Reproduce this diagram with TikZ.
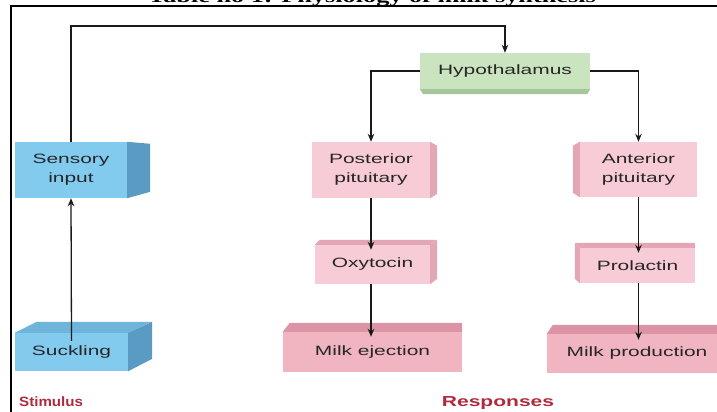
\documentclass[tikz,border=0pt]{standalone}
\usepackage{fontspec}
\usetikzlibrary{arrows.meta}
\newfontfamily\boxfont[FakeStretch=1.55]{Liberation Sans}
\newfontfamily\stimfont[FakeStretch=1.12]{Liberation Sans}
\newfontfamily\respfont[FakeStretch=1.45]{Liberation Sans}
\newfontfamily\titlefont[FakeStretch=1.5]{Liberation Serif}
\definecolor{bluefront}{HTML}{82CBEF}
\definecolor{bluedark}{HTML}{5A9BC3}
\definecolor{bluetop}{HTML}{6FB4DA}
\definecolor{pinkfront}{HTML}{F7CCD6}
\definecolor{pinkdark}{HTML}{E3A6B4}
\definecolor{milkfront}{HTML}{F1B5C2}
\definecolor{milkdark}{HTML}{DC93A6}
\definecolor{greenfront}{HTML}{C9E4BF}
\definecolor{greendark}{HTML}{A6C79B}
\definecolor{txtgray}{HTML}{262626}
\definecolor{linegray}{HTML}{1A1A1A}
\definecolor{labred}{HTML}{B02A3E}
\tikzset{
  face/.style={rectangle, inner sep=0pt, align=center, text=txtgray,
    font=\boxfont\fontsize{13.5}{19}\selectfont},
  bluebox/.style={face, fill=bluefront},
  pinkbox/.style={face, fill=pinkfront},
  milkbox/.style={face, fill=milkfront},
  greenbox/.style={face, fill=greenfront},
  conn/.style={draw=linegray, line width=1.3pt},
  arr/.style={conn, -{Stealth[length=8pt,width=6.5pt]}},
  framestyle/.style={draw=black, line width=2pt},
}
\begin{document}
\begin{tikzpicture}[x=1pt,y=-1pt]
\useasboundingbox (0,0) rectangle (717,412);
\fill[white] (0,0) rectangle (717,412);

% title (cut off at the top)
\node[anchor=base, inner sep=0pt, font=\titlefont\bfseries\fontsize{17.5}{18}\selectfont] (title) at (372,3) {Table no 1: Physiology of milk synthesis};

% frame
\draw[framestyle] (11,412) -- (11,6) -- (717,6);

% stimulus side
\node[bluebox, minimum width=112pt, minimum height=56pt] (sens) at (71,170) {Sensory\\input};
\fill[bluedark] (sens.north east) -- ++(23,2) -- ++(0,48) -- (sens.south east) -- cycle;

\node[bluebox, minimum width=113pt, minimum height=38pt] (suck) at (71.5,352) {Suckling};
\fill[bluetop] (suck.north west) -- ++(22,-11) -- ++(115,0) -- (suck.north east) -- cycle;
\fill[bluedark] (suck.north east) -- ++(24,-11) -- ++(0,37) -- (suck.south east) -- cycle;

% hypothalamus
\node[greenbox, minimum width=170pt, minimum height=36pt] (hyp) at (505,71) {Hypothalamus};
\fill[greendark] (hyp.south west) -- (hyp.south east) -- ++(-3,5) -- ++(-164,0) -- cycle;

% posterior branch
\node[pinkbox, minimum width=118pt, minimum height=56pt] (post) at (371,170) {Posterior\\pituitary};
\fill[pinkdark] (post.north east) -- ++(7,4) -- ++(0,48) -- (post.south east) -- cycle;

\node[pinkbox, minimum width=115pt, minimum height=39pt] (oxy) at (372.5,264.5) {Oxytocin};
\fill[pinkdark] (oxy.north west) -- ++(5,-5) -- ++(117,0) -- (oxy.north east) -- cycle;
\fill[pinkdark] (oxy.north east) -- ++(7,-5) -- ++(0,39) -- (oxy.south east) -- cycle;

\node[milkbox, minimum width=179pt, minimum height=40pt] (milkej) at (372.5,352) {Milk ejection};
\fill[milkdark] (milkej.north west) -- ++(7,-9) -- ++(172,0) -- (milkej.north east) -- cycle;

% anterior branch
\node[pinkbox, minimum width=117pt, minimum height=55pt] (ant) at (638.5,169.5) {Anterior\\pituitary};
\fill[pinkdark] (ant.north west) -- ++(-7,4) -- ++(0,47) -- (ant.south west) -- cycle;

\node[pinkbox, minimum width=115pt, minimum height=35pt] (prol) at (637.5,265.5) {Prolactin};
\fill[pinkdark] (prol.north west) -- ++(-5,-5) -- ++(120,0) -- (prol.north east) -- cycle;
\fill[pinkdark] (prol.north west) -- ++(-5,-5) -- ++(0,36) -- (prol.south west) -- cycle;

\node[milkbox, minimum width=180pt, minimum height=39pt] (milkpr) at (637,353.5) {Milk production};
\fill[milkdark] (milkpr.north west) -- ++(6,-9) -- ++(174,0) -- (milkpr.north east) -- cycle;

% labels
\node[anchor=west, inner sep=0pt, text=labred, font=\stimfont\bfseries\fontsize{13.5}{14}\selectfont] (stim) at (19,402) {Stimulus};
\node[inner sep=0pt, text=labred, font=\respfont\bfseries\fontsize{14.5}{15}\selectfont] (resp) at (498,403) {Responses};

% connectors
\coordinate (topc) at (71,26);
\draw[arr] (sens.north) -- (topc) -| (hyp.north);
\draw[arr] ([yshift=-8pt]suck.north) -- (sens.south);
\draw[arr] (hyp.west) -| (post.north);
\draw[arr] (hyp.east) -| (ant.north);
\draw[arr, shorten >=-5pt] (post.south) -- (post.south |- oxy.north);
\draw[arr, shorten >=-5pt] (post.south |- oxy.south) -- (post.south |- milkej.north);
\draw[arr, line width=1.6pt, shorten >=-5pt] (ant.south) -- (ant.south |- prol.north);
\draw[arr, line width=1.6pt, shorten >=-6pt] (ant.south |- prol.south) -- (ant.south |- milkpr.north);
\end{tikzpicture}
\end{document}
